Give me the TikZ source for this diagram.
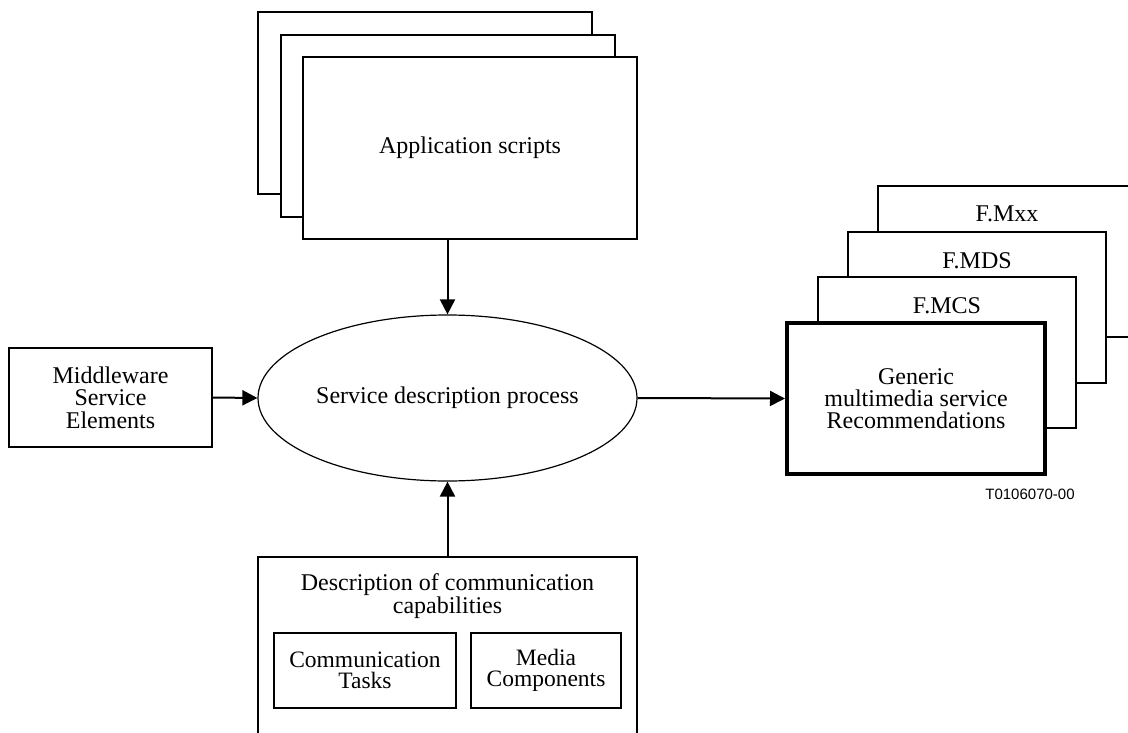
\documentclass[tikz,border=0pt]{standalone}
\usepackage{fontspec}
\setmainfont{Liberation Serif}
\newfontfamily\labelsans{Liberation Sans}
\usetikzlibrary{arrows.meta,shapes.geometric}
\begin{document}
\begin{tikzpicture}[x=1pt,y=-1pt,
  txt/.style={font=\fontsize{24}{22}\selectfont},
  box/.style={draw, line width=1.2pt, fill=white, inner sep=0pt, align=center, txt},
  stackA/.style={box, minimum width=334pt, minimum height=182pt},
  stackB/.style={box, minimum width=258pt, minimum height=151pt},
  lbl/.style={inner sep=0pt, align=center, txt},
  conn/.style={line width=2pt, -{Triangle[length=15pt,width=15pt]}},
]
\useasboundingbox (0,0) rectangle (1128,733);
\clip (0,0) rectangle (1128,733);

% application scripts stack
\node[stackA] (as3) at (425,103) {};
\node[stackA] (as2) at (448,126) {};
\node[stackA] (as1) at (470,148) {Application scripts};

% recommendation stack
\node[stackB] (mxx) at (1007,261.5) {};
\node[stackB] (mds) at (977,307.5) {};
\node[stackB] (mcs) at (947,352.5) {};
\node[stackB, line width=4pt] (gen) at (916,398.5) {Generic\\multimedia service\\Recommendations};
\node[lbl, anchor=base] (lmxx) at (1007,222) {F.Mxx};
\node[lbl, anchor=base] (lmds) at (977,269) {F.MDS};
\node[lbl, anchor=base] (lmcs) at (947,313) {F.MCS};
\node[inner sep=0pt, font=\labelsans\fontsize{15}{17}\selectfont] (code) at (1030,494) {T0106070-00};

% middleware
\node[box, minimum width=203pt, minimum height=99pt, font=\fontsize{24}{22.5}\selectfont] (mw) at (110.5,397.5) {Middleware\\Service\\Elements};

% process
\node[draw, ellipse, line width=1.2pt, inner sep=0pt, minimum width=379pt, minimum height=166pt, txt] (sdp) at (447.5,398) {Service description process};

% communication capabilities
\node[box, minimum width=379pt, minimum height=220pt] (desc) at (447.5,667) {};
\node[lbl, font=\fontsize{24}{20}\selectfont] (desct) at (447.5,596) {Description of communication\\capabilities};
\node[box, minimum width=182pt, minimum height=75pt, font=\fontsize{23.5}{21.5}\selectfont] (ct) at (365,670.5) {Communication\\Tasks};
\node[box, minimum width=150pt, minimum height=75pt, font=\fontsize{23.5}{21.5}\selectfont] (mc) at (546,670.5) {Media\\Components};

% connectors
\draw[conn] (as1.south -| sdp.north) -- (sdp.north);
\draw[conn] (desc.north) -- (sdp.south);
\draw[conn] (mw.east) -- (sdp.west);
\draw[conn] (sdp.east) -- (gen.west);
\end{tikzpicture}
\end{document}
